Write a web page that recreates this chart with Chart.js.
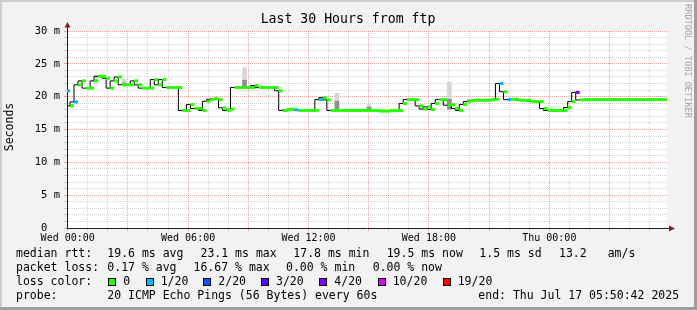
<!DOCTYPE html>
<html>
<head>
<meta charset="utf-8">
<title>Last 30 Hours from ftp</title>
<style>
  html, body { margin: 0; padding: 0; background: #f2f2f2; }
  canvas { display: block; }
</style>
</head>
<body>
<canvas id="chart" width="697" height="310"></canvas>
<script src="https://cdn.jsdelivr.net/npm/chart.js@4.4.1/dist/chart.umd.min.js"></script>
<script>
// median rtt (ms) for each 12 minute step, starting just before Wed 00:00
const rtt = [
  20.9, 18.6, 19.2, 21.8, 22.4, 21.3, 21.3, 22.4, 23.1, 23.1,
  22.8, 21.3, 22.4, 23.0, 21.8, 21.8, 21.8, 22.4, 21.8, 21.3,
  21.3, 21.3, 22.6, 21.8, 22.6, 21.4, 21.4, 21.4, 21.4, 17.9,
  17.9, 18.8, 18.2, 18.2, 17.9, 19.3, 19.6, 19.7, 19.55, 18.3,
  17.9, 18.1, 21.4, 21.4, 21.4, 21.4, 21.4, 21.7, 21.4, 21.4,
  21.4, 21.4, 21.4, 20.9, 17.9, 18.0, 18.1, 18.0, 17.9, 17.9,
  17.9, 17.9, 17.9, 19.55, 19.85, 19.5, 17.9, 17.9, 17.9, 17.9,
  17.9, 17.9, 17.9, 17.9, 17.9, 17.9, 17.9, 17.9, 17.8, 17.8,
  17.8, 17.9, 17.9, 17.9, 18.95, 19.55, 19.55, 19.55, 18.6, 18.1,
  18.45, 18.05, 18.95, 19.55, 19.55, 18.7, 18.8, 18.2, 17.9, 18.8,
  19.25, 19.45, 19.45, 19.45, 19.45, 19.45, 19.55, 19.6, 22.0, 20.75,
  19.55, 19.6, 19.6, 19.45, 19.45, 19.45, 19.25, 19.25, 19.25, 18.2,
  17.9, 17.9, 17.9, 17.9, 17.9, 18.35, 19.25, 20.65, 19.5, 19.55,
  19.55, 19.55, 19.55, 19.55, 19.55, 19.55, 19.55, 19.55, 19.55, 19.55,
  19.55, 19.55, 19.55, 19.55, 19.55, 19.55, 19.55, 19.55, 19.55, 19.55
];
// lost pings (out of 20) for each step
const lossPings = [
  1, 0, 1, 0, 0, 0, 0, 0, 0, 0,  0, 0, 0, 0, 0, 0, 0, 0, 0, 0,
  0, 0, 0, 0, 0, 0, 0, 0, 0, 0,  0, 0, 0, 0, 0, 0, 0, 0, 0, 0,
  0, 0, 0, 0, 0, 0, 0, 0, 0, 0,  0, 0, 0, 0, 0, 0, 0, 1, 0, 0,
  0, 0, 0, 1, 0, 0, 0, 0, 0, 0,  0, 0, 0, 0, 0, 0, 0, 0, 0, 0,
  0, 0, 0, 0, 0, 0, 0, 0, 0, 0,  0, 0, 0, 0, 0, 0, 0, 0, 0, 0,
  0, 0, 0, 0, 0, 0, 0, 0, 1, 0,  1, 0, 0, 0, 0, 0, 0, 0, 0, 0,
  0, 0, 0, 0, 0, 0, 0, 3.33, 0, 0,  0, 0, 0, 0, 0, 0, 0, 0, 0, 0,
  0, 0, 0, 0, 0, 0, 0, 0, 0, 0
];
// smoke (spread of single pings) where it is visible
const smokeSteps    = [7, 14, 44, 67, 75, 95];
const smokeLow      = [22.5, 22.1, 21.4, 17.9, 17.9, 18.1];
const smokeHigh     = [23.3, 22.7, 24.4, 20.5, 18.8, 22.2];
const smokeCoreLow  = [22.4, 21.8, 21.4, 17.9, 17.9, 18.1];
const smokeCoreHigh = [22.5, 22.1, 22.5, 19.3, 18.4, 19.6];

const xTickHours  = [0, 6, 12, 18, 24];
const xTickLabels = ['Wed 00:00', 'Wed 06:00', 'Wed 12:00', 'Wed 18:00', 'Thu 00:00'];
const yTickValues = [0, 5, 10, 15, 20, 25, 30];
const yTickLabels = ['0  ', '5 m', '10 m', '15 m', '20 m', '25 m', '30 m'];

const lossSteps  = [0, 1, 2, 3, 4, 10, 19];
const lossLabels = ['0', '1/20', '2/20', '3/20', '4/20', '10/20', '19/20'];
const rttStats   = ['19.6 ms avg', '23.1 ms max', '17.8 ms min', '19.5 ms now', '1.5 ms sd', '13.2', 'am/s'];
const lossStats  = ['0.17 % avg', '16.67 % max', '0.00 % min', '0.00 % now'];
const titleText  = 'Last 30 Hours from ftp';
const probeText  = '20 ICMP Echo Pings (56 Bytes) every 60s';
const endText    = 'end: Thu Jul 17 05:50:42 2025';

// styles
const MONO = '"DejaVu Sans Mono", "Liberation Mono", monospace';
const lossColors = ['#26ff00', '#00b8ff', '#0059ff', '#5e00ff', '#7e00ff', '#dd00ff', '#ff0000'];
const gridMinor = 'rgba(143,143,143,0.38)';
const gridMajor = 'rgba(222,79,79,0.5)';
const arrowColor = '#801f1f';

const firstStep = -0.085; // hours relative to Wed 00:00
const stepLen = 0.2;
const t = i => firstStep + i * stepLen;
const colorFor = i => lossColors[lossSteps.findIndex(s => lossPings[i] <= s)];

const medianPts = rtt.map((v, i) => ({x: t(i), y: v}));
medianPts.push({x: t(rtt.length), y: rtt[rtt.length - 1]});

const lossPts = [];
rtt.forEach((v, i) => {
  lossPts.push({x: t(i), y: v}, {x: t(i + 1), y: v}, {x: t(i + 1), y: null});
});

const smokeOuter = smokeSteps.map((s, j) => ({x: t(s) + stepLen / 2, y: [smokeLow[j], smokeHigh[j]]}));
const smokeCore = smokeSteps.map((s, j) => ({x: t(s) + stepLen / 2, y: [smokeCoreLow[j], smokeCoreHigh[j]]}));

const range = (a, b) => Array.from({length: b - a + 1}, (_, k) => ({value: a + k}));

const decor = {
  id: 'decor',
  beforeDraw(chart) {
    const {ctx, chartArea: a, width, height} = chart;
    ctx.save();
    ctx.fillStyle = '#f2f2f2';
    ctx.fillRect(0, 0, width, height);
    ctx.fillStyle = '#cecece';
    ctx.fillRect(0, 0, width, 2);
    ctx.fillRect(0, 0, 2, height);
    ctx.fillStyle = '#9e9e9e';
    ctx.fillRect(width - 3, 0, 3, height);
    ctx.fillRect(0, height - 3, width, 3);
    ctx.fillStyle = '#ffffff';
    ctx.fillRect(a.left, a.top, a.right - a.left, a.bottom - a.top);
    ctx.restore();
  },
  afterDraw(chart) {
    const {ctx, chartArea: a} = chart;
    ctx.save();
    // axis arrows
    ctx.strokeStyle = '#1f1f1f';
    ctx.lineWidth = 1;
    ctx.beginPath();
    ctx.moveTo(a.left + 0.5, a.top);
    ctx.lineTo(a.left + 0.5, a.top - 5);
    ctx.moveTo(a.right, a.bottom + 0.5);
    ctx.lineTo(a.right + 2, a.bottom + 0.5);
    ctx.stroke();
    ctx.fillStyle = arrowColor;
    ctx.beginPath();
    ctx.moveTo(a.left + 0.5, a.top - 9);
    ctx.lineTo(a.left - 2.5, a.top - 3.5);
    ctx.lineTo(a.left + 3.5, a.top - 3.5);
    ctx.closePath();
    ctx.fill();
    ctx.beginPath();
    ctx.moveTo(a.right + 8, a.bottom + 0.5);
    ctx.lineTo(a.right + 2, a.bottom - 2.5);
    ctx.lineTo(a.right + 2, a.bottom + 3.5);
    ctx.closePath();
    ctx.fill();

    // title
    ctx.fillStyle = '#000';
    ctx.textBaseline = 'middle';
    ctx.textAlign = 'center';
    ctx.font = '13.2px ' + MONO;
    ctx.fillText(titleText, 348, 19.5);

    // vertical axis label
    ctx.save();
    ctx.translate(10.5, 127);
    ctx.rotate(-Math.PI / 2);
    ctx.font = '11.5px ' + MONO;
    ctx.fillText('Seconds', 0, 0);
    ctx.restore();

    // watermark
    ctx.save();
    ctx.translate(687.5, 61);
    ctx.rotate(Math.PI / 2);
    ctx.fillStyle = '#a8a8a8';
    ctx.font = '8.6px ' + MONO;
    ctx.fillText('RRDTOOL / TOBI OETIKER', 0, 0);
    ctx.restore();

    // legend
    ctx.textAlign = 'left';
    ctx.font = '11.5px ' + MONO;
    const rows = [254.3, 268.3, 282.3, 296];
    ctx.fillText('median rtt:', 16, rows[0]);
    [107.3, 200.5, 293.3, 386.7, 479.3, 559, 607.7].forEach((x, i) => ctx.fillText(rttStats[i], x, rows[0]));
    ctx.fillText('packet loss:', 16, rows[1]);
    [107.3, 193.5, 286, 372.7].forEach((x, i) => ctx.fillText(lossStats[i], x, rows[1]));
    ctx.fillText('loss color:', 16, rows[2]);
    [108.3, 145.7, 203.3, 261, 319.3, 377.7, 442.7].forEach((x, i) => {
      ctx.fillStyle = lossColors[i];
      ctx.fillRect(Math.round(x), 278, 8, 8);
      ctx.strokeStyle = '#000';
      ctx.strokeRect(Math.round(x) + 0.5, 278.5, 7, 7);
      ctx.fillStyle = '#000';
      ctx.fillText(lossLabels[i], x + 15, rows[2]);
    });
    ctx.fillText('probe:', 16, rows[3]);
    ctx.fillText(probeText, 107.3, rows[3]);
    ctx.fillText(endText, 478.3, rows[3]);
    ctx.restore();
  }
};

new Chart(document.getElementById('chart'), {
  type: 'line',
  data: {
    datasets: [
      {
        data: lossPts,
        segment: { borderColor: c => colorFor(Math.floor(c.p0DataIndex / 3)) },
        borderColor: lossColors[0],
        borderWidth: 3,
        borderCapStyle: 'butt',
        pointRadius: 0,
        spanGaps: false,
        order: 1
      },
      {
        data: medianPts,
        stepped: 'after',
        borderColor: '#000000',
        borderWidth: 1,
        pointRadius: 0,
        order: 2
      },
      {
        type: 'bar',
        data: smokeCore,
        backgroundColor: '#8e8e8e',
        barThickness: 4,
        grouped: false,
        borderWidth: 0,
        order: 3
      },
      {
        type: 'bar',
        data: smokeOuter,
        backgroundColor: '#d6d6d6',
        barThickness: 4,
        grouped: false,
        borderWidth: 0,
        order: 4
      }
    ]
  },
  options: {
    responsive: false,
    animation: false,
    devicePixelRatio: 1,
    layout: { padding: { top: 31, right: 30, left: 0, bottom: 0 } },
    plugins: { legend: { display: false }, tooltip: { enabled: false }, title: { display: false } },
    scales: {
      x: {
        type: 'linear',
        min: -0.035,
        max: 29.865,
        offset: false,
        afterBuildTicks: s => { s.ticks = range(0, 29); },
        afterFit: s => { s.height = 82; },
        ticks: {
          autoSkip: false, maxRotation: 0, minRotation: 0, padding: 1,
          color: '#000',
          font: { family: MONO, size: 10 },
          callback: v => { const i = xTickHours.indexOf(v); return i < 0 ? '' : xTickLabels[i]; }
        },
        grid: {
          offset: false,
          tickLength: 3,
          color: c => (c.tick && c.tick.value % 3 === 0) ? gridMajor : gridMinor
        },
        border: { display: true, color: '#1f1f1f', width: 1, dash: [1, 1] }
      },
      y: {
        type: 'linear',
        min: 0,
        max: 30,
        afterBuildTicks: s => { s.ticks = range(0, 30); },
        afterFit: s => { s.width = 67; },
        ticks: {
          autoSkip: false, padding: 4,
          color: '#000',
          font: { family: MONO, size: 10.5 },
          callback: v => { const i = yTickValues.indexOf(v); return i < 0 ? '' : yTickLabels[i]; }
        },
        grid: {
          tickLength: 3,
          color: c => (c.tick && c.tick.value % 5 === 0) ? gridMajor : gridMinor
        },
        border: { display: true, color: '#1f1f1f', width: 1, dash: [1, 1] }
      }
    }
  },
  plugins: [decor]
});
</script>
</body>
</html>
